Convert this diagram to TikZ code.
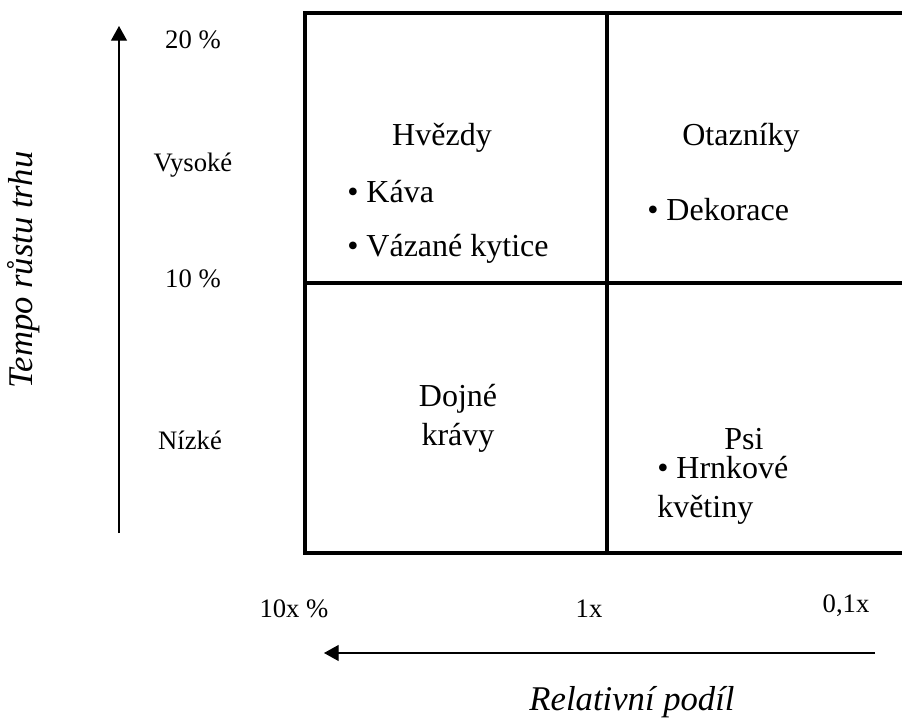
\documentclass[tikz,border=0pt]{standalone}
\usepackage{fontspec}
\setmainfont{Liberation Serif}
\usetikzlibrary{arrows.meta}
\tikzset{
  lbl/.style={font=\fontsize{20}{24}\selectfont, inner sep=0pt, anchor=base},
  cell/.style={font=\fontsize{24}{29}\selectfont, inner sep=0pt},
  axtitle/.style={font=\fontsize{26}{30}\selectfont\itshape, inner sep=0pt, anchor=base}
}
\begin{document}
\begin{tikzpicture}[x=0.75pt, y=-0.75pt, line join=miter, >={Triangle[length=11pt, width=12pt]}]
 \useasboundingbox (0,0) rectangle (902,720);
 % matice
 \draw[line width=3pt] (305,13.5) rectangle (912,553);
 \draw[line width=3pt] (607,13.5) -- (607,553);
 \draw[line width=3pt] (305,283) -- (912,283);
 % osy
 \coordinate (ybot) at (119,533);
 \coordinate (ytop) at (119,26);
 \coordinate (xr) at (875,653);
 \coordinate (xl) at (324,653);
 \draw[->, line width=0.8pt] (ybot) -- (ytop);
 \draw[->, line width=0.8pt] (xr) -- (xl);
 \node[axtitle, rotate=90] (ytitle) at (32,270) {Tempo růstu trhu};
 \node[axtitle] (xtitle) at (632,710) {Relativní podíl};
 % popisky os
 \node[lbl] (y20) at (193,49) {20 \%};
 \node[lbl] (yhi) at (193,172) {Vysoké};
 \node[lbl] (y10) at (193,287) {10 \%};
 \node[lbl] (ylo) at (190,449) {Nízké};
 \node[lbl] (x10) at (294,617) {10x \%};
 \node[lbl] (x1) at (589,617) {1x};
 \node[lbl] (x01) at (846,612) {0,1x};
 % kvadranty
 \node[cell, anchor=base] (hvezdy) at (442,146) {Hvězdy};
 \node[cell, anchor=base west] (kava) at (347,203) {• Káva};
 \node[cell, anchor=base west] (kytice) at (347,257) {• Vázané kytice};
 \node[cell, anchor=base] (otazniky) at (741,146) {Otazníky};
 \node[cell, anchor=base west] (dekorace) at (647,220) {• Dekorace};
 \node[cell, align=center] (dojne) at (458,418) {Dojné\\krávy};
 \node[cell, anchor=base] (psi) at (744,449) {Psi};
 \node[cell, align=left, anchor=west] (hrnkove) at (657,490) {• Hrnkové\\květiny};
\end{tikzpicture}
\end{document}
